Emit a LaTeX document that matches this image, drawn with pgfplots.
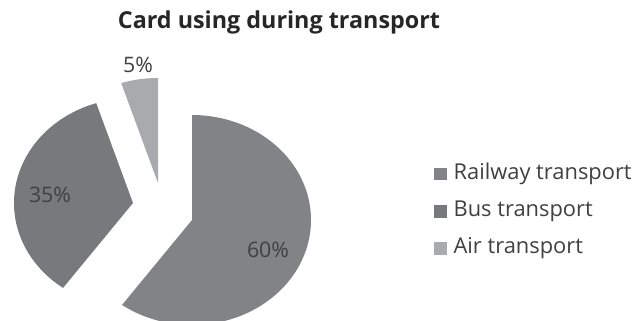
\documentclass[border=0pt]{standalone}
\usepackage{pgfplots}
\pgfplotsset{compat=1.18}
\usepackage{fontspec}
\setmainfont{Open Sans}
\definecolor{rail}{HTML}{828387}
\definecolor{bus}{HTML}{78797D}
\definecolor{air}{HTML}{A9AAAE}
\definecolor{txt}{HTML}{404040}
\def\vRail{60}
\def\vBus{35}
\def\vAir{5}
\begin{document}
\begin{tikzpicture}
\begin{axis}[
  x=0.75pt, y=0.75pt,
  xmin=0, xmax=633, ymin=0, ymax=321,
  hide axis,
  legend style={draw=none, fill=none, at={(axis cs:434,158)}, anchor=north west,
    font=\fontsize{16.4}{19}\selectfont\color{txt}, row sep=12pt, inner sep=0pt,
    column sep=0pt,
    nodes={inner ysep=0pt, inner xsep=0pt, text height=12pt, text depth=4pt}},
  legend cell align=left,
  legend image code/.code={\path[#1,draw=none] (0pt,-4.7pt) rectangle (9.2pt,4.7pt);
    \path (14.5pt,0pt);},
]
\path (rel axis cs:0,0) rectangle (rel axis cs:1,1);
\addplot[fill=rail, draw=none, domain={90-3.6*\vRail}:90, samples=120, variable=\t]
  ({192+119*cos(t)},{101+105*sin(t)}) -- (axis cs:192,101) -- cycle;
\addlegendentry{Railway transport}
\addplot[fill=bus, draw=none, domain={90-3.6*(\vRail+\vBus)}:{90-3.6*\vRail}, samples=80, variable=\t]
  ({133+119*cos(t)},{118+105*sin(t)}) -- (axis cs:133,118) -- cycle;
\addlegendentry{Bus transport}
\addplot[fill=air, draw=none, domain={90-3.6*(\vRail+\vBus+\vAir)}:{90-3.6*(\vRail+\vBus)}, samples=20, variable=\t]
  ({158+119*cos(t)},{138+105*sin(t)}) -- (axis cs:158,138) -- cycle;
\addlegendentry{Air transport}
\node[font=\fontsize{16}{19}\selectfont, text=txt] at (axis cs:268,71) {\vRail\%};
\node[font=\fontsize{16}{19}\selectfont, text=txt] at (axis cs:50,126) {\vBus\%};
\node[font=\fontsize{16}{19}\selectfont, text=txt] at (axis cs:138,256) {\vAir\%};
\node[font=\bfseries\fontsize{17.5}{20}\selectfont, text=black!85] at (axis cs:279,299) {Card using during transport};
\end{axis}
\end{tikzpicture}
\end{document}
